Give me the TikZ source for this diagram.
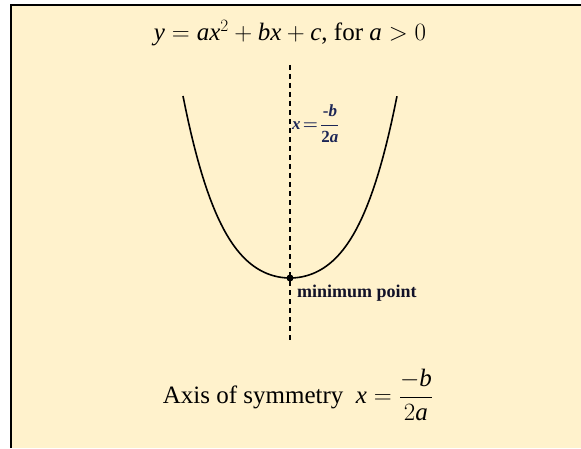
\documentclass[tikz,border=0pt]{standalone}
\usepackage{fontspec}
\setmainfont{Liberation Serif}
\definecolor{fondo}{RGB}{255,242,204}
\definecolor{tinta}{RGB}{28,38,86}
\definecolor{tintaosc}{RGB}{18,18,40}
\newcommand{\mvar}[1]{\mbox{\itshape #1}}

\begin{document}
\begin{tikzpicture}[x=1pt, y=1pt,
    curve/.style={draw=black, line width=1.6pt},
    axisline/.style={draw=black, line width=1.8pt, dash pattern=on 5pt off 4pt},
    dot/.style={circle, fill=black, inner sep=0pt, minimum size=7pt},
    eqn/.style={font=\fontsize{25}{30}\selectfont, inner sep=0pt},
    tag/.style={font=\fontsize{18}{20}\selectfont\bfseries\boldmath, inner sep=0pt}]

    \useasboundingbox (0,0) rectangle (581,448);
    \fill[fondo] (11,0) rectangle (581,443);
    \draw[line width=2.5pt] (11,0) -- (11,443) -- (581,443);

    \node [eqn, anchor=base] (title) at (290,407) {$\mvar{y} = \mvar{ax}^2 + \mvar{bx} + \mvar{c}$, for $\mvar{a} > 0$};

    \coordinate (axtop) at (290,383);
    \coordinate (axbot) at (290,107);
    \path [axisline] (axtop) -- (axbot);

    \draw [curve] plot[domain=-1.07:1.07, samples=80, variable=\t] ({290+100*\t}, {170+81.06*\t*\t+68.05*\t*\t*\t*\t});

    \node [dot] (vtx) at (290,170) {};
    \node [tag, text=tintaosc, anchor=base west] (minlbl) at (297,151) {minimum point};
    \node [tag, text=tinta, font=\fontsize{17}{20}\selectfont\bfseries\boldmath, anchor=west] (vlbl) at (292,324) {$\mvar{x}\!=\!\displaystyle\frac{\mbox{-\itshape b}}{\mbox{2\itshape a}}$};

    \node [eqn, anchor=base] (sym) at (298,45) {Axis of symmetry\ \ $\mvar{x} = \displaystyle\frac{-\mvar{b}}{2\mvar{a}}$};
\end{tikzpicture}
\end{document}
